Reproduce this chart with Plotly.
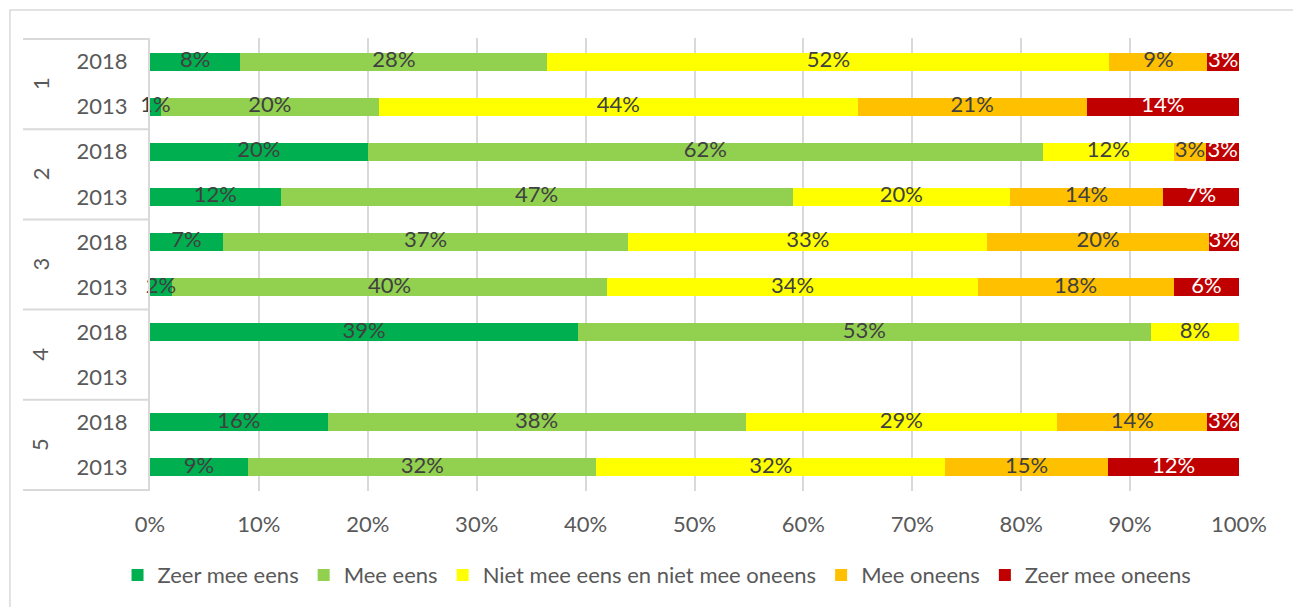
import plotly.graph_objects as go

groups = ["1", "1", "2", "2", "3", "3", "4", "4", "5", "5"]
years = ["2018", "2013", "2018", "2013", "2018", "2013", "2018", "2013", "2018", "2013"]

series_names = ["Zeer mee eens", "Mee eens", "Niet mee eens en niet mee oneens", "Mee oneens", "Zeer mee oneens"]
zeer_mee_eens = [8.3, 1.0, 20.0, 12.0, 6.7, 2.0, 39.3, None, 16.3, 9.0]
mee_eens = [28.2, 20.0, 62.0, 47.0, 37.2, 40.0, 52.6, None, 38.4, 32.0]
neutraal = [51.6, 44.0, 12.0, 20.0, 33.0, 34.0, 8.1, None, 28.6, 32.0]
mee_oneens = [9.0, 21.0, 3.0, 14.0, 20.3, 18.0, None, None, 13.8, 15.0]
zeer_mee_oneens = [2.9, 14.0, 3.0, 7.0, 2.8, 6.0, None, None, 2.9, 12.0]
series_values = [zeer_mee_eens, mee_eens, neutraal, mee_oneens, zeer_mee_oneens]
colors = ["#00B050", "#92D050", "#FFFF00", "#FFC000", "#C00000"]
text_colors = ["#404040", "#404040", "#404040", "#404040", "#FFFFFF"]
x_ticks = [0, 10, 20, 30, 40, 50, 60, 70, 80, 90, 100]

FONT = "Lato"
keys = [f"{g}|{y}" for g, y in zip(groups, years)]

fig = go.Figure()
for name, vals, col in zip(series_names, series_values, colors):
    fig.add_trace(go.Bar(
        y=keys, x=vals, name=name, orientation="h",
        marker=dict(color=col, line=dict(width=0)),
        textposition="none",
        hoverinfo="name+x",
    ))

# data labels centred in each segment (from cumulative data)
base = [0.0] * len(keys)
for name, vals, tcol in zip(series_names, series_values, text_colors):
    lx, ly, lt = [], [], []
    for i, v in enumerate(vals):
        if v is None:
            continue
        lx.append(base[i] + v / 2)
        ly.append(keys[i])
        lt.append(f"{int(v + 0.5)}%")
        base[i] += v
    fig.add_trace(go.Scatter(
        x=lx, y=ly, text=lt, mode="text", textposition="middle center",
        textfont=dict(family=FONT, size=22, color=tcol),
        showlegend=False, hoverinfo="skip", cliponaxis=False,
    ))

# group labels and dividers
shapes = []
annotations = []
uniq = []
for g in groups:
    if g not in uniq:
        uniq.append(g)
for g in uniq:
    idx = [i for i, gg in enumerate(groups) if gg == g]
    center = sum(idx) / len(idx)
    annotations.append(dict(x=-0.101, xref="paper", xanchor="center", y=center, yref="y",
                            yanchor="middle", text=g, showarrow=False,
                            textangle=-90, font=dict(family=FONT, size=22, color="#595959")))
bounds = [-0.5] + [i + 0.5 for i in range(1, len(groups), 2)]
for b in bounds:
    shapes.append(dict(type="line", xref="paper", yref="y", x0=-0.1166, x1=0, y0=b, y1=b,
                       line=dict(color="#D9D9D9", width=2)))
# chart outer border
shapes.append(dict(type="rect", xref="paper", yref="paper", x0=-0.1286, x1=1.0514, y0=-0.27, y1=1.0617,
                   line=dict(color="#D9D9D9", width=1.5), layer="below"))

fig.update_layout(
    width=1293, height=599,
    margin=dict(l=142, r=62, t=30, b=115),
    barmode="stack", bargap=0.6,
    plot_bgcolor="white", paper_bgcolor="white",
    font=dict(family=FONT, color="#595959"),
    xaxis=dict(range=[0, 100], tickvals=x_ticks, ticktext=[f"{v}%" for v in x_ticks],
               showgrid=True, gridcolor="#D9D9D9", gridwidth=2, zeroline=False,
               showline=False, ticks="outside", ticklen=14, tickcolor="rgba(0,0,0,0)",
               tickfont=dict(family=FONT, size=22, color="#595959"),
               fixedrange=True),
    yaxis=dict(type="category", categoryorder="array", categoryarray=keys, autorange="reversed",
               tickvals=keys, ticktext=years, ticks="outside", ticklen=16, tickcolor="rgba(0,0,0,0)",
               showline=True, linecolor="#D9D9D9", linewidth=2, showgrid=False,
               tickfont=dict(family=FONT, size=22, color="#595959")),
    legend=dict(orientation="h", x=0.4656, xanchor="center", y=-0.183, yanchor="middle",
                font=dict(family=FONT, size=22, color="#595959"), traceorder="normal"),
    shapes=shapes, annotations=annotations,
    showlegend=True,
)

fig.write_html("out.html")
